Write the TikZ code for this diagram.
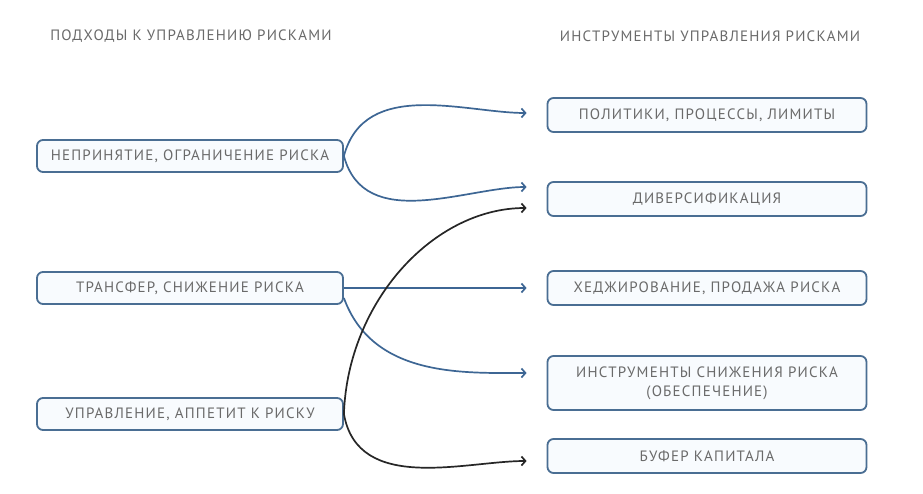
\documentclass[tikz,border=0pt]{standalone}
\usepackage{fontspec}
\usetikzlibrary{arrows.meta}
\setmainfont{PT Sans}[LetterSpace=8]
\definecolor{lineablu}{HTML}{3D6694}
\definecolor{bordoblu}{HTML}{4A6E93}
\definecolor{testogrigio}{HTML}{6A6A6A}
\definecolor{fondobox}{HTML}{F8FBFE}
\tikzset{
  scatola/.style={draw=bordoblu,line width=1.8pt,rounded corners=6pt,fill=fondobox,
    text=testogrigio,font=\fontsize{15}{19}\selectfont,align=center,inner sep=0pt},
  sinistra/.style={scatola,minimum width=306pt,minimum height=32pt},
  destra/.style={scatola,minimum width=319pt,minimum height=34pt},
  titolo/.style={text=testogrigio,font=\fontsize{15}{19}\selectfont},
  freccia/.style={-{Straight Barb[length=4pt,width=9pt]},line width=1.7pt,lineablu,shorten >=20pt},
  frecciane/.style={freccia,black!85}
}
\begin{document}
\begin{tikzpicture}[x=1pt,y=-1pt]
\useasboundingbox[fill=white](0,0)rectangle(923,494);
%titoli
\node[titolo](titsx) at (191,36){ПОДХОДЫ К УПРАВЛЕНИЮ РИСКАМИ};
\node[titolo](titdx) at (710,36){ИНСТРУМЕНТЫ УПРАВЛЕНИЯ РИСКАМИ};
%box a sinistra
\node[sinistra](nepr) at (190,156){НЕПРИНЯТИЕ, ОГРАНИЧЕНИЕ РИСКА};
\node[sinistra](trans) at (190,288){ТРАНСФЕР, СНИЖЕНИЕ РИСКА};
\node[sinistra](upr) at (190,414){УПРАВЛЕНИЕ, АППЕТИТ К РИСКУ};
%box a destra
\node[destra](polit) at (707,115){ПОЛИТИКИ, ПРОЦЕССЫ, ЛИМИТЫ};
\node[destra](divers) at (707,199){ДИВЕРСИФИКАЦИЯ};
\node[destra](hedg) at (707,288){ХЕДЖИРОВАНИЕ, ПРОДАЖА РИСКА};
\node[destra,minimum height=54pt](instr) at (707,383){ИНСТРУМЕНТЫ СНИЖЕНИЯ РИСКА\\(ОБЕСПЕЧЕНИЕ)};
\node[destra](bufer) at (707,456){БУФЕР КАПИТАЛА};
%frecce blu
\draw[freccia](nepr.east) to[out=75,in=180]([yshift=2pt]polit.west);
\draw[freccia](nepr.east) to[out=-75,in=180]([yshift=12pt]divers.west);
\draw[freccia](trans.east)--(hedg.west);
\draw[freccia]([yshift=-10pt]trans.east) to[out=-70,in=180]([yshift=10pt]instr.west);
%frecce nere
\draw[frecciane](upr.east) to[out=88,in=180]([yshift=-9pt]divers.west);
\draw[frecciane](upr.east) to[out=-80,in=180]([yshift=-5pt]bufer.west);
\end{tikzpicture}
\end{document}
